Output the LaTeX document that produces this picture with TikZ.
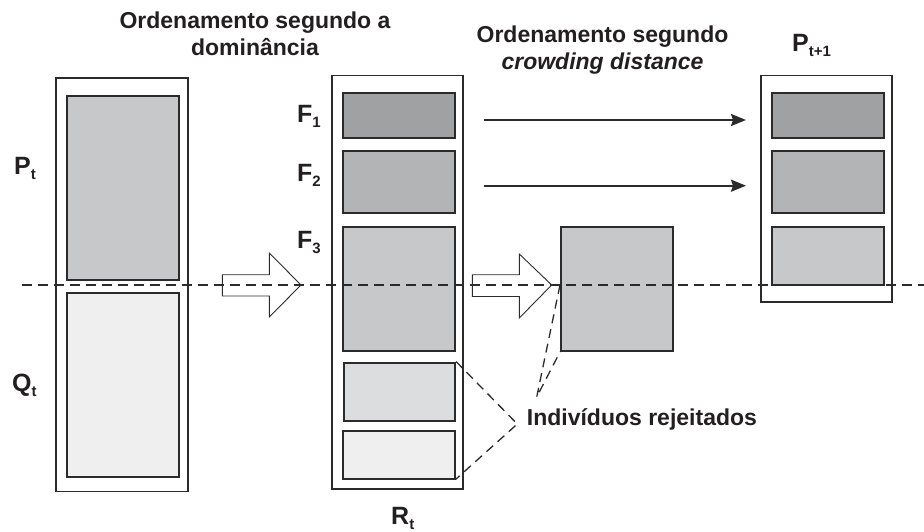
\documentclass[tikz,border=0pt]{standalone}
\usepackage{fontspec}
\setmainfont{Liberation Sans}
\usetikzlibrary{arrows.meta}
\definecolor{lin}{HTML}{2B2B2B}
\definecolor{txt}{HTML}{231F20}
\definecolor{ga}{HTML}{A0A1A3}
\definecolor{gb}{HTML}{B3B4B6}
\definecolor{gc}{HTML}{C7C8CA}
\definecolor{gd}{HTML}{DCDDDE}
\definecolor{ge}{HTML}{EFEFEF}
\newcommand\sbx[1]{\raisebox{-0.2em}{\fontsize{15}{15}\selectfont #1}}
\begin{document}
\begin{tikzpicture}[x=1pt,y=-1pt,
  lbl/.style={font=\fontsize{23}{27}\selectfont\bfseries, text=txt, inner sep=0pt},
  sym/.style={font=\fontsize{25}{27}\selectfont\bfseries, text=txt, inner sep=0pt},
  outerbox/.style={draw=lin, line width=1.5pt, fill=white, inner sep=0pt, anchor=north west},
  innerbox/.style={draw=lin, line width=2pt, inner sep=0pt, anchor=north west},
  hollow/.style={draw=lin, line width=0.9pt, fill=white, line join=miter},
  arr/.style={draw=lin, line width=2pt, -{Stealth[length=15pt,width=12pt,inset=2pt]}},
  dsh/.style={draw=lin, line width=1.3pt, dash pattern=on 9pt off 6pt},
]
\useasboundingbox (0,0) rectangle (924,532);

% left column
\node[outerbox, minimum width=132, minimum height=413] (PQ) at (55,77.5) {};
\node[innerbox, fill=gc, minimum width=112, minimum height=184] (Pin) at (66,95) {};
\node[innerbox, fill=ge, minimum width=112, minimum height=184] (Qin) at (66,292) {};

% R_t column
\node[outerbox, minimum width=131, minimum height=413] (R) at (331,75) {};
\node[innerbox, fill=ga, minimum width=112, minimum height=45] (F1) at (341.5,92) {};
\node[innerbox, fill=gb, minimum width=112, minimum height=62] (F2) at (341.5,150) {};
\node[innerbox, fill=gc, minimum width=112, minimum height=123.5] (F3) at (341.5,226) {};
\node[innerbox, fill=gd, minimum width=111.5, minimum height=58] (Rj1) at (342.5,361.5) {};
\node[innerbox, fill=ge, minimum width=112, minimum height=48] (Rj2) at (341.5,429.5) {};

% middle box
\node[innerbox, fill=gc, minimum width=112, minimum height=124] (M) at (560,226) {};

% P_{t+1} column
\node[outerbox, minimum width=131, minimum height=226] (N) at (760,75) {};
\node[innerbox, fill=ga, minimum width=112, minimum height=45] (N1) at (770.5,92) {};
\node[innerbox, fill=gb, minimum width=112, minimum height=62] (N2) at (770.5,150) {};
\node[innerbox, fill=gc, minimum width=112, minimum height=58] (N3) at (770.5,226) {};

% hollow block arrows
\draw[hollow] (222.3,274.7) -- (269.3,274.7) -- (269.3,253) -- (301,285) -- (269.3,317) -- (269.3,296) -- (222.3,296) -- cycle;
\draw[hollow] (472.3,274.7) -- (519.3,274.7) -- (519.3,254) -- (551.7,285) -- (519.3,318) -- (519.3,296.5) -- (472.3,296.5) -- cycle;

% solid arrows
\coordinate (a1s) at (484,120);
\coordinate (a1e) at (746,120);
\coordinate (a2s) at (484,185.7);
\coordinate (a2e) at (746,185.7);
\draw[arr] (a1s) -- (a1e);
\draw[arr] (a2s) -- (a2e);

% dashed horizontal line
\coordinate (dl) at (22,285);
\coordinate (dr) at (924,285);
\draw[dsh, dash pattern=on 10pt off 6pt] (dl) -- (dr);

% rejected pointers
\coordinate (rv) at (517.3,424);
\coordinate (mv) at (536.7,397);
\draw[dsh] (Rj1.north east) -- (rv) -- (Rj2.south east);
\draw[dsh] (M.west |- dl) -- (mv) -- (M.south west);

% labels
\node[lbl, align=center, anchor=north] (t1) at (255,12) {Ordenamento segundo a\\dominância};
\node[lbl, align=center, anchor=north] (t2) at (602.5,25.5) {Ordenamento segundo\\\itshape crowding distance};
\node[sym, anchor=base west] (lP) at (14,175) {P\sbx{t}};
\node[sym, anchor=base west] (lQ) at (12,391) {Q\sbx{t}};
\node[sym, anchor=base west] (lF1) at (297,122.3) {F\sbx{1}};
\node[sym, anchor=base west] (lF2) at (297,182) {F\sbx{2}};
\node[sym, anchor=base west] (lF3) at (297,248) {F\sbx{3}};
\node[sym, anchor=base west] (lR) at (391,524.5) {R\sbx{t}};
\node[sym, anchor=base west] (lN) at (792,52) {P\sbx{t+1}};
\node[lbl, anchor=base west] (lI) at (526.7,425.5) {Indivíduos rejeitados};
\end{tikzpicture}
\end{document}
